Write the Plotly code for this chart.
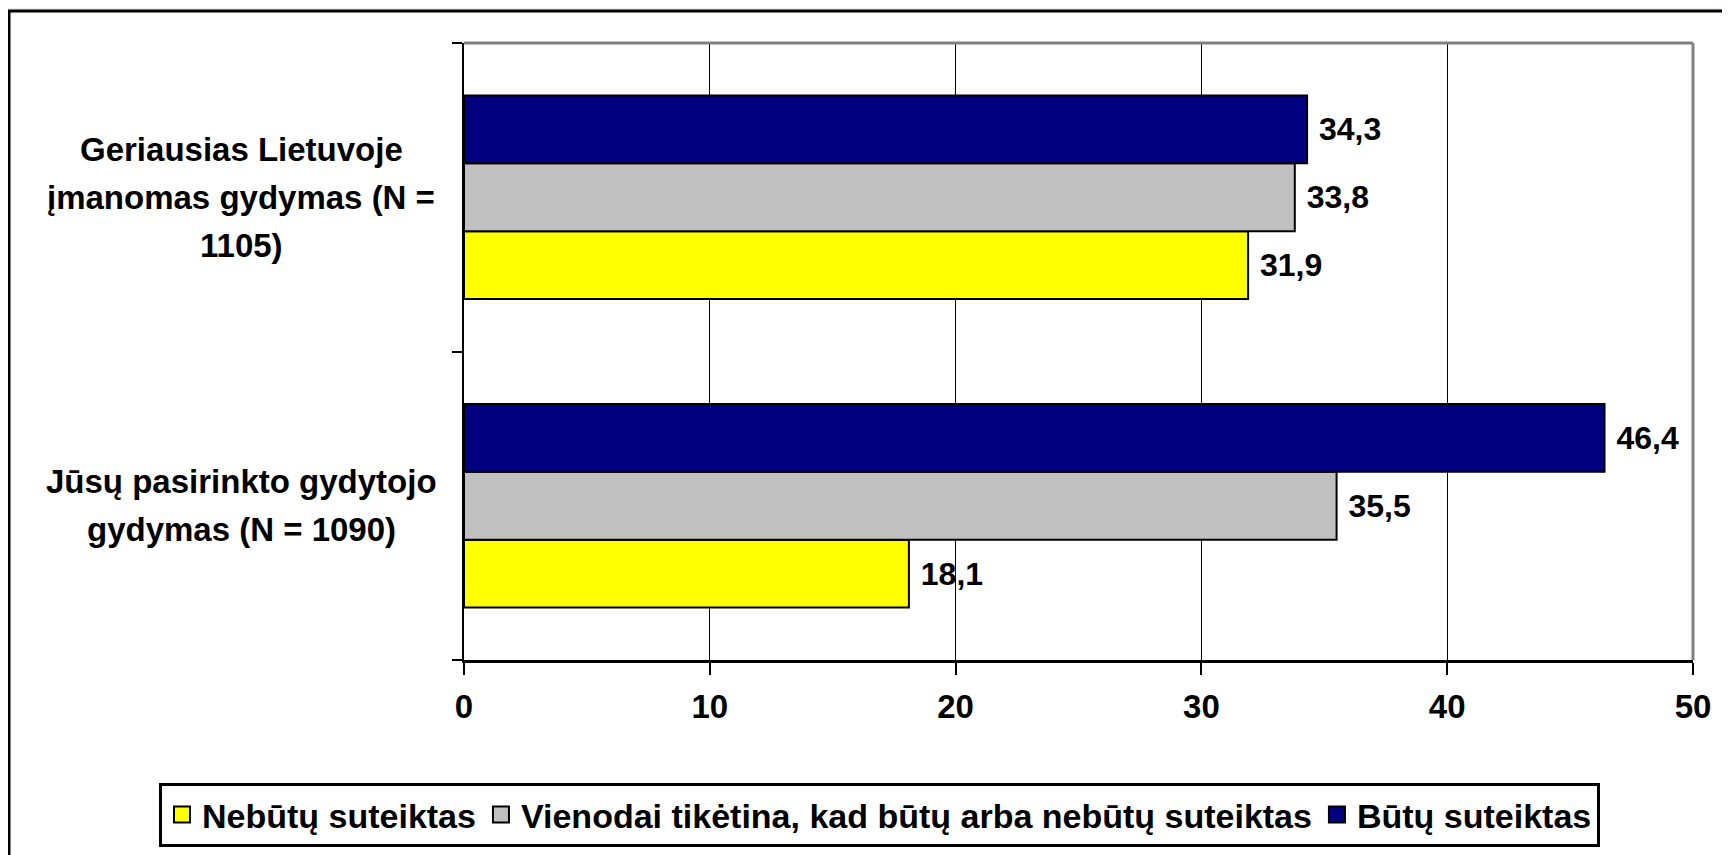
import plotly.graph_objects as go

# ---- data ----
categories = [
    "Jūsų pasirinkto gydytojo<br>gydymas (N = 1090)",
    "Geriausias Lietuvoje<br>įmanomas gydymas (N =<br>1105)",
]
series_names = [
    "Nebūtų suteiktas",
    "Vienodai tikėtina, kad būtų arba nebūtų suteiktas",
    "Būtų suteiktas",
]
nebutu = [18.1, 31.9]
vienodai = [35.5, 33.8]
butu = [46.4, 34.3]
series_values = [nebutu, vienodai, butu]
colors = ["#FFFF00", "#C0C0C0", "#000080"]
x_ticks = [0, 10, 20, 30, 40, 50]

OFF = 8  # page body margin
W, H = 1730 - OFF, 855 - OFF
L, R, T, B = 464 - OFF, 1693 - OFF, 43 - OFF, 660 - OFF
FONT = "Liberation Sans, Arial, sans-serif"


def xp(px):  # screen px -> paper
    return (px - OFF - L) / (R - L)


def yp(py):
    return (B - (py - OFF)) / (B - T)


fig = go.Figure()
for name, vals, col in zip(series_names, series_values, colors):
    fig.add_trace(go.Bar(
        y=categories, x=vals, orientation="h", name=name,
        marker=dict(color=col, line=dict(color="black", width=2)),
        texttemplate=" %{x:.1f}", textposition="outside",
        textfont=dict(family=FONT, size=32, color="black", weight="bold"),
        constraintext="none", cliponaxis=False, showlegend=False,
    ))
    # legend entry with larger square symbol
    fig.add_trace(go.Scatter(
        x=[None], y=[None], mode="markers", name=name,
        marker=dict(symbol="square", size=18, color=col,
                    line=dict(color="black", width=2)),
        showlegend=True, hoverinfo="skip",
    ))

annotations = []
line_gap = 48
for cat in categories:
    lines = cat.split("<br>")
    n = len(lines)
    for i, ln in enumerate(lines):
        shift = ((n - 1) / 2 - i) * line_gap
        annotations.append(dict(
            x=xp(241), xref="paper", y=cat, yref="y", yshift=shift,
            text=ln, showarrow=False, xanchor="center", yanchor="middle",
            font=dict(family=FONT, size=33, color="black", weight="bold"),
        ))

shapes = [
    # outer chart box
    dict(type="rect", xref="paper", yref="paper",
         x0=xp(9), x1=xp(1800), y0=yp(11), y1=yp(950),
         line=dict(color="black", width=3), fillcolor="white", layer="below"),
    # top and right plot border (gray)
    dict(type="line", xref="paper", yref="paper", x0=0, x1=1, y0=1, y1=1,
         line=dict(color="#808080", width=3), layer="above"),
    dict(type="line", xref="paper", yref="paper", x0=1, x1=1, y0=0, y1=1,
         line=dict(color="#808080", width=3), layer="above"),
]

fig.update_layout(
    width=W, height=H,
    margin=dict(l=L, r=W - R, t=T, b=H - B, pad=0, autoexpand=False),
    paper_bgcolor="#e6eff3", plot_bgcolor="white",
    barmode="group", bargap=0.34, bargroupgap=0,
    separators=", ",
    font=dict(family=FONT, color="black"),
    annotations=annotations, shapes=shapes,
    legend=dict(
        orientation="h", x=xp(159), xanchor="left", y=yp(783), yanchor="top",
        bordercolor="black", borderwidth=3, bgcolor="white",
        font=dict(family=FONT, size=34, color="black", weight="bold"),
        tracegroupgap=0,
    ),
    xaxis=dict(
        range=[0, 50], tickvals=x_ticks, showgrid=True, gridcolor="black",
        gridwidth=1, zeroline=False, showline=True, linecolor="black",
        linewidth=3, ticks="outside", ticklen=12, tickcolor="black",
        tickwidth=2, ticklabelstandoff=3,
        tickfont=dict(family=FONT, size=33, color="black", weight="bold"),
    ),
    yaxis=dict(
        categoryorder="array", categoryarray=categories, showticklabels=False,
        showgrid=False, zeroline=False, showline=True, linecolor="black",
        linewidth=2, ticks="outside", ticklen=10, tickcolor="black",
        tickwidth=2, tickson="boundaries",
    ),
)

fig.write_html("out.html")
